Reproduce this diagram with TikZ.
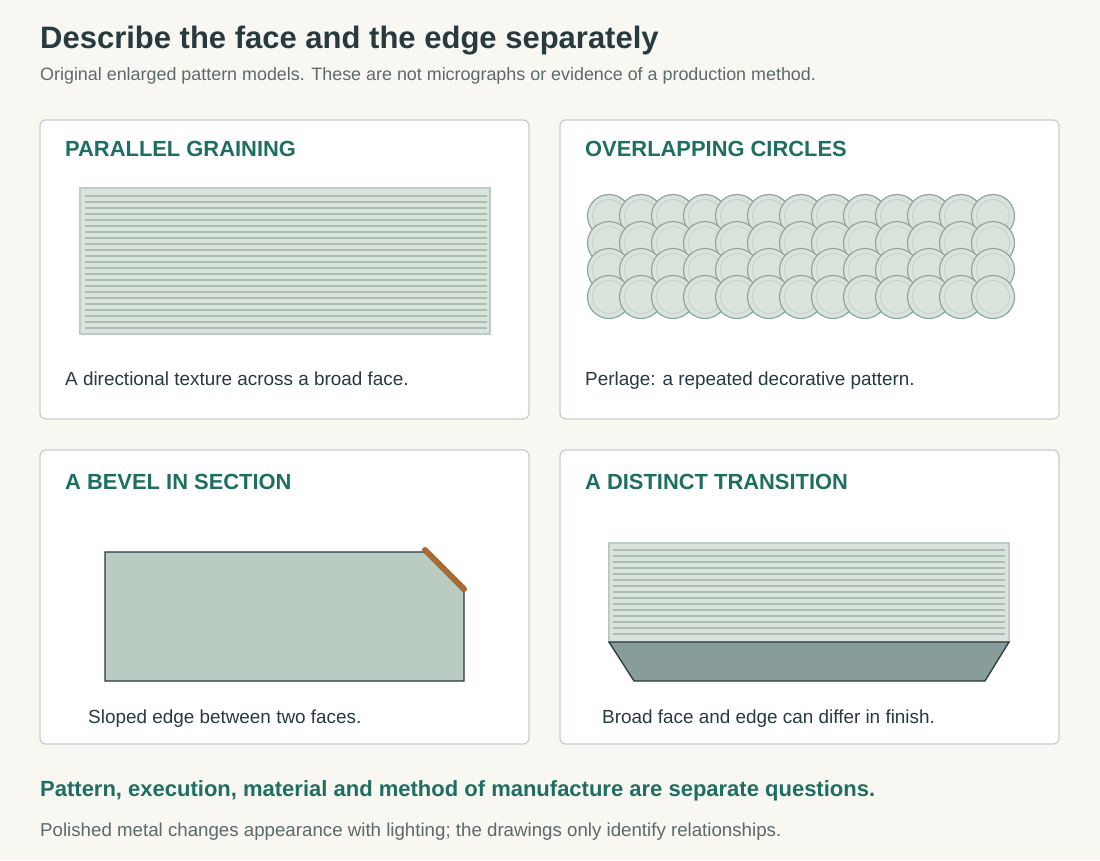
\documentclass[tikz,border=0pt]{standalone}
\usepackage{fontspec}
\setmainfont{Liberation Sans}
\definecolor{bgpaper}{HTML}{F8F7F2}
\definecolor{inkdark}{HTML}{263A3F}
\definecolor{inkgray}{HTML}{5B6A6A}
\definecolor{teal}{HTML}{1F6E62}
\definecolor{panelline}{HTML}{C5CFCA}
\definecolor{facefill}{HTML}{DAE3DC}
\definecolor{faceline}{HTML}{ABBFB5}
\definecolor{circline}{HTML}{8FA69C}
\definecolor{bevelfill}{HTML}{BACBC2}
\definecolor{edgefill}{HTML}{889D99}
\definecolor{bevelbrown}{HTML}{A86A30}
\begin{document}
\begin{tikzpicture}[
    x=1pt, y=-1pt,
    panel/.style={draw=panelline, line width=1.2pt, fill=white, rounded corners=6pt},
    paneltitle/.style={anchor=base west, inner sep=0pt, text=teal, font=\fontsize{21.9}{25}\selectfont\bfseries},
    caption/.style={anchor=base west, inner sep=0pt, text=inkdark, font=\fontsize{18.9}{22}\selectfont},
    face/.style={draw=faceline!80, line width=1.2pt, fill=facefill},
    grain/.style={faceline, line width=1.3pt},
    disc/.style={draw=circline, line width=1.2pt, fill=facefill},
    section/.style={draw=inkdark, line width=1.3pt}
]
\useasboundingbox (0,0) rectangle (1100,860);
\fill[bgpaper] (0,0) rectangle (1100,860);

% Heading
\node[anchor=base west, inner sep=0pt, text=inkdark, font=\fontsize{31}{35}\selectfont\bfseries] (title) at (40,48) {Describe the face and the edge separately};
\node[anchor=base west, inner sep=0pt, text=inkgray, font=\fontsize{17.9}{20}\selectfont] (subtitle) at (40,80) {Original enlarged pattern models. These are not micrographs or evidence of a production method.};

% Panels
\draw[panel] (40,120) rectangle (529,419);
\draw[panel] (560,120) rectangle (1059,419);
\draw[panel] (40,450) rectangle (529,744);
\draw[panel] (560,450) rectangle (1059,744);

% Parallel graining
\node[paneltitle] (gtitle) at (65,156) {PARALLEL GRAINING};
\draw[face] (80,188) rectangle (490,334);
\foreach \y in {196,202,...,330}
    \draw[grain] (85,\y) -- (487,\y);
\node[caption] (gtext) at (65,385) {A directional texture across a broad face.};

% Overlapping circles
\node[paneltitle] (ctitle) at (585,156) {OVERLAPPING CIRCLES};
\foreach \r in {0,...,3}
    \foreach \c in {0,...,12} {
        \draw[disc] (609+32*\c,216+27*\r) circle (21.5);
        \draw[facefill!70!circline, line width=0.8pt] (609+32*\c,216+27*\r) circle (16.5);
    }
\node[caption] (ctext) at (585,385) {Perlage: a repeated decorative pattern.};

% Bevel in section
\node[paneltitle] (btitle) at (65,489) {A BEVEL IN SECTION};
\draw[section, fill=bevelfill] (105,552) -- (425,552) -- (464,592) -- (464,681) -- (105,681) -- cycle;
\draw[bevelbrown, line width=6pt, line cap=round] (425,550) -- (464,589);
\node[caption] (btext) at (88,723) {Sloped edge between two faces.};

% Distinct transition
\node[paneltitle] (ttitle) at (585,489) {A DISTINCT TRANSITION};
\draw[face] (609,543) rectangle (1009,642);
\foreach \y in {550,556,...,637}
    \draw[grain] (613,\y) -- (1005,\y);
\draw[section, fill=edgefill] (609,642) -- (1009,642) -- (985,681) -- (634,681) -- cycle;
\node[caption] (ttext) at (602,723) {Broad face and edge can differ in finish.};

% Footer
\node[anchor=base west, inner sep=0pt, text=teal, font=\fontsize{22}{26}\selectfont\bfseries] (note) at (40,796) {Pattern, execution, material and method of manufacture are separate questions.};
\node[anchor=base west, inner sep=0pt, text=inkgray, font=\fontsize{18.7}{21}\selectfont] (foot) at (40,836) {Polished metal changes appearance with lighting; the drawings only identify relationships.};
\end{tikzpicture}
\end{document}
